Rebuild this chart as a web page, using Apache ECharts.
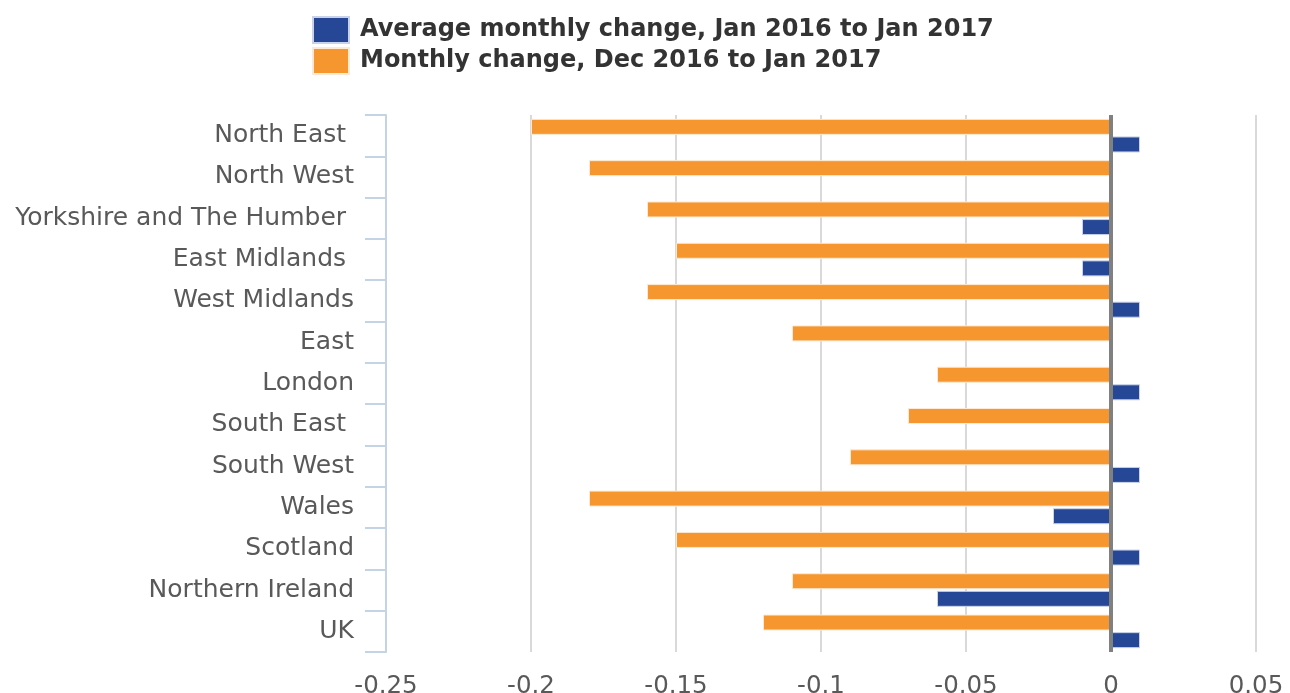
<!DOCTYPE html>
<html>
<head>
<meta charset="utf-8">
<script src="https://cdn.jsdelivr.net/npm/echarts@6/dist/echarts.min.js"></script>
<style>html,body{margin:0;padding:0;background:#fff}#c{width:1290px;height:693px}</style>
</head>
<body>
<div id="c"></div>
<script>
const categories = ['North East ', 'North West', 'Yorkshire and The Humber ', 'East Midlands ', 'West Midlands', 'East', 'London', 'South East ', 'South West', 'Wales', 'Scotland', 'Northern Ireland', 'UK'];
const monthlyChange = [-0.20, -0.18, -0.16, -0.15, -0.16, -0.11, -0.06, -0.07, -0.09, -0.18, -0.15, -0.11, -0.12];
const avgMonthlyChange = [0.01, 0, -0.01, -0.01, 0.01, 0, 0.01, 0, 0.01, -0.02, 0.01, -0.06, 0.01];
const seriesNames = ['Average monthly change, Jan 2016 to Jan 2017', 'Monthly change, Dec 2016 to Jan 2017'];

const chart = echarts.init(document.getElementById('c'));
const font = 'DejaVu Sans';
chart.setOption({
  animation: false,
  textStyle: { fontFamily: font },
  legend: {
    data: [seriesNames[0], seriesNames[1]],
    orient: 'vertical',
    left: 307, top: 11,
    itemWidth: 36, itemHeight: 26, itemGap: 3,
    icon: 'rect',
    textStyle: { fontFamily: font, fontSize: 24, fontWeight: 'bold', color: '#333333', padding: [0,0,0,6] }
  },
  grid: { left: 386, right: 34, top: 115, bottom: 41, containLabel: false, outerBoundsMode: 'none' },
  xAxis: {
    type: 'value', min: -0.25, max: 0.05, interval: 0.05,
    axisLine: { show: false }, axisTick: { show: false },
    splitLine: { show: true, lineStyle: { color: '#d9d9d9', width: 2 } },
    axisLabel: { fontFamily: font, fontSize: 24.5, color: '#595959', margin: 22,
      formatter: v => { const r = Math.round(v*100)/100; return String(r); } }
  },
  yAxis: {
    type: 'category', data: categories, inverse: true,
    axisLine: { show: true, onZero: false, lineStyle: { color: '#c5d3e6', width: 2 } },
    axisTick: { show: true, inside: false, length: 21, lineStyle: { color: '#c5d3e6', width: 2 } },
    axisLabel: { fontFamily: font, fontSize: 25, color: '#595959', margin: 32 }
  },
  series: [{
    name: seriesNames[1], type: 'bar', data: monthlyChange,
    barWidth: 16, barGap: '10%', z: 3,
    itemStyle: { color: '#f5962f', borderColor: '#fde9d4', borderWidth: 1 }
  }, {
    name: seriesNames[0], type: 'bar', data: avgMonthlyChange,
    barWidth: 16, barGap: '10%', z: 3,
    itemStyle: { color: '#264796', borderColor: '#c9d2e8', borderWidth: 1 }
  }, {
    name: 'zero', type: 'line', data: [], z: 2, silent: true,
    markLine: {
      silent: true, symbol: ['none', 'none'], label: { show: false },
      lineStyle: { color: '#808080', width: 4, type: 'solid' },
      data: [{ xAxis: 0 }]
    }
  }]
});
</script>
</body>
</html>
